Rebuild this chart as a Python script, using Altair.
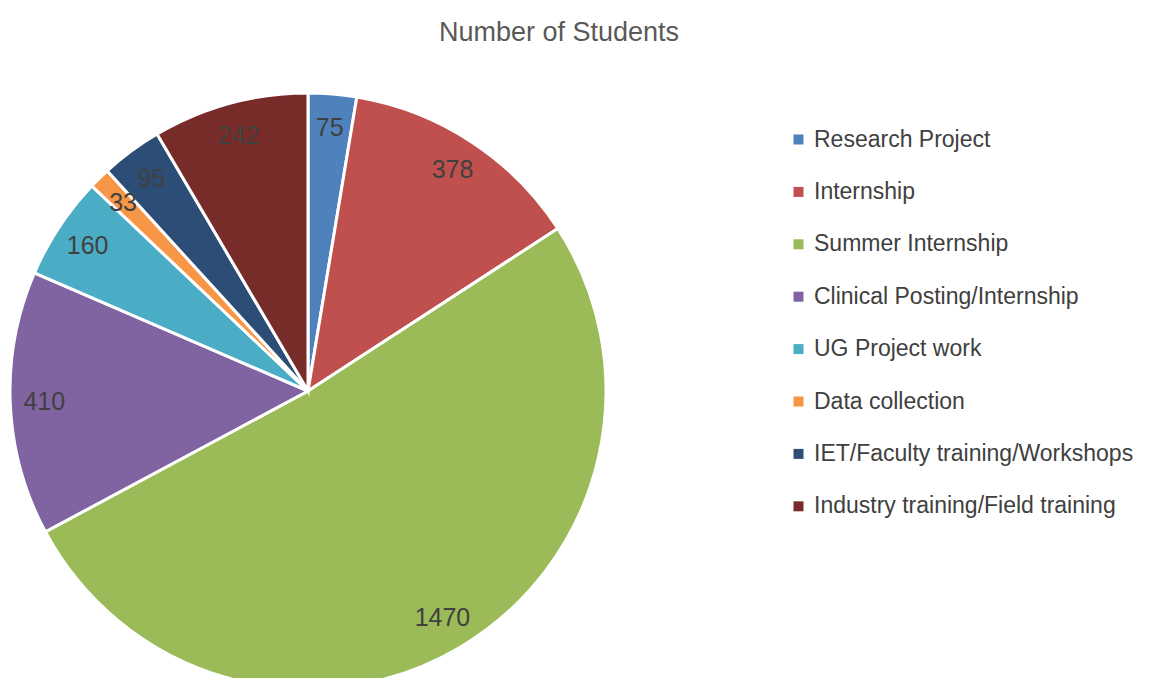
import altair as alt
import pandas as pd

categories = [
    "Research Project",
    "Internship",
    "Summer Internship",
    "Clinical Posting/Internship",
    "UG Project work",
    "Data collection",
    "IET/Faculty training/Workshops",
    "Industry training/Field training",
]
students = [75, 378, 1470, 410, 160, 33, 95, 242]
colors = ["#4F81BD", "#C0504D", "#9BBB59", "#8064A2", "#4BACC6", "#F79646", "#2C4D75", "#772C2A"]

df = pd.DataFrame({"category": categories, "students": students, "idx": list(range(len(categories)))})

FONT = "Liberation Sans"
CX, CY, R = 300, 383, 298

base = alt.Chart(df).encode(
    theta=alt.Theta("students:Q", stack=True),
    order=alt.Order("idx:Q"),
)

color = alt.Color(
    "category:N",
    scale=alt.Scale(domain=categories, range=colors),
    sort=categories,
    legend=alt.Legend(
        title=None,
        orient="none",
        legendX=779,
        legendY=120,
        symbolType="square",
        symbolSize=100,
        symbolStrokeWidth=0,
        labelFont=FONT,
        labelFontSize=23,
        labelColor="#404040",
        rowPadding=28.4,
        labelOffset=4,
        labelLimit=500,
    ),
)

arcs = base.mark_arc(outerRadius=R, stroke="white", strokeWidth=3).encode(
    color=color,
    x=alt.value(CX),
    y=alt.value(CY),
)

labels = base.mark_text(radius=264, font=FONT, fontSize=25, color="#404040").encode(
    text=alt.Text("students:Q"),
    x=alt.value(CX),
    y=alt.value(CY),
)

title = alt.Chart(pd.DataFrame({"t": ["Number of Students"]})).mark_text(
    font=FONT, fontSize=27, color="#595959"
).encode(text="t:N", x=alt.value(551), y=alt.value(25))

chart = (
    alt.layer(arcs, labels, title)
    .properties(width=1137, height=670, padding=0, autosize=alt.AutoSizeParams(type="none"))
    .configure_view(stroke=None)
)

chart.save("out.html", embed_options={"renderer": "svg", "actions": False})
